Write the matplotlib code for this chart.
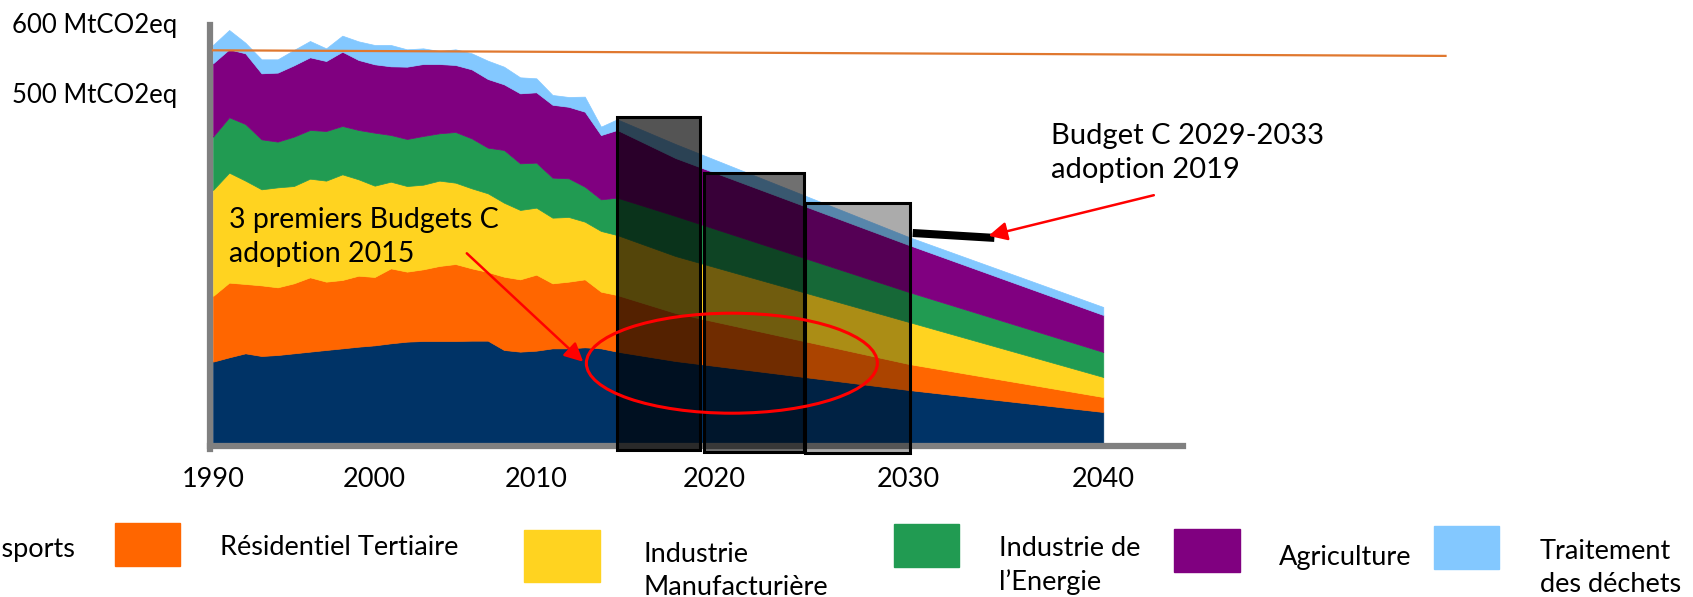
import numpy as np
import matplotlib.pyplot as plt
from matplotlib.patches import Rectangle, Ellipse
from matplotlib import transforms

plt.rcParams['font.family'] = ['Lato', 'DejaVu Sans']

# emissions par secteur (MtCO2eq), historique annuel puis projection
years = list(range(1990, 2016)) + [2018, 2030, 2040]

transports = [116.2, 122.4, 128.1, 124.3, 125.7, 128.1, 130.5, 132.9, 135.2, 137.6,
              139.5, 142.4, 144.8, 145.7, 145.7, 145.7, 146.2, 146.2, 132.9, 130.5,
              131.9, 135.2, 135.2, 136.7, 135.2, 130.5, 117.1, 75.7, 44.3]
residentiel = [93.8, 106.7, 99.1, 100.9, 96.7, 100.0, 106.2, 97.6, 97.7, 101.4,
               97.7, 107.1, 100.0, 102.4, 107.2, 110.0, 103.3, 98.1, 104.7, 103.3,
               108.6, 92.9, 95.3, 97.1, 81.0, 80.9, 68.6, 37.2, 21.4]
industrie = [151.4, 157.1, 147.6, 137.2, 142.8, 139.0, 140.9, 144.3, 150.9, 137.7,
             130.4, 123.8, 122.3, 120.9, 121.9, 116.2, 114.3, 112.4, 105.7, 99.1,
             95.7, 93.8, 92.4, 82.4, 86.7, 85.7, 81.4, 60.0, 28.6]
energie = [76.2, 79.1, 80.9, 71.4, 65.3, 70.5, 69.6, 70.9, 69.1, 70.5,
           75.7, 66.7, 67.2, 69.6, 67.6, 72.4, 71.4, 65.2, 75.3, 66.6,
           64.3, 57.2, 55.2, 50.0, 45.2, 53.4, 57.2, 42.8, 35.7]
agriculture = [104.8, 97.1, 101.0, 94.3, 98.6, 101.9, 103.8, 100.0, 106.1, 100.0,
               97.7, 98.1, 103.3, 102.8, 99.0, 95.7, 98.6, 98.1, 93.8, 100.0,
               100.5, 104.1, 102.2, 107.1, 91.8, 96.7, 82.8, 67.2, 52.9]
dechets = [26.2, 27.6, 15.2, 20.0, 19.0, 21.9, 23.3, 18.1, 22.9, 26.6,
           27.6, 30.5, 24.8, 22.4, 18.6, 22.4, 22.9, 26.2, 25.2, 22.9,
           20.0, 14.0, 14.0, 21.5, 12.0, 15.2, 20.0, 11.4, 11.4]

secteurs = ['Transports', 'Résidentiel Tertiaire', 'Industrie\nManufacturière',
            'Industrie de\nl’Energie', 'Agriculture', 'Traitement\ndes déchets']
couleurs = ['#003366', '#FF6600', '#FFD320', '#219B52', '#800080', '#83C8FF']

# budgets carbone : debut, fin, bas, haut
budgets = [(2015.0, 2019.27, -10, 465.7),
           (2019.48, 2024.62, -12.9, 385.7),
           (2024.67, 2030.07, -14.3, 342.9)]
budget_alpha = [0.67, 0.56, 0.33]
budget4 = ([2030.2, 2034.4], [300, 293])
niveau_1990 = ([1990, 2057.6], [561, 553])

x_ticks = [1990, 2000, 2010, 2020, 2030, 2040]
y_ticks = [500, 600]

W, H = 1693, 597
fig = plt.figure(figsize=(W / 100, H / 100), dpi=100)
ax = fig.add_axes([213 / W, 1 - 457 / H, 970 / W, 448 / H])


# l'axe des annees n'a pas le meme pas avant et apres 2015
def fwd(x):
    x = np.asarray(x, float)
    return np.where(x <= 2015, (x - 1990) * 16.16, 404 + (x - 2015) * 19.44)


def inv(v):
    v = np.asarray(v, float)
    return np.where(v <= 404, 1990 + v / 16.16, 2015 + (v - 404) / 19.44)


ax.set_xscale('function', functions=(fwd, inv))

ax.stackplot(years, transports, residentiel, industrie, energie, agriculture, dechets,
             colors=couleurs, edgecolor='face', linewidth=0.5, zorder=1)

for (x0, x1, y0, y1), a in zip(budgets, budget_alpha):
    ax.add_patch(Rectangle((x0, y0), x1 - x0, y1 - y0, facecolor=(0, 0, 0, a),
                           edgecolor='black', lw=2.2, zorder=3))

ax.plot(budget4[0], budget4[1], color='black', lw=5.8, solid_capstyle='butt', zorder=4)
ax.plot(niveau_1990[0], niveau_1990[1], color='#E0782F', lw=1.6, clip_on=False, zorder=4)

ax.set_xlim(1990, 2044.1)
ax.set_ylim(-20, 620)
for s in ['top', 'right']:
    ax.spines[s].set_visible(False)
ax.spines['left'].set_color('#808080')
ax.spines['left'].set_linewidth(4.5)
ax.spines['left'].set_bounds(-8, 597)
ax.spines['left'].set_position(('outward', 2))
ax.spines['bottom'].set_color('#808080')
ax.spines['bottom'].set_linewidth(4.5)
ax.spines['bottom'].set_position(('data', -4))
ax.spines['bottom'].set_bounds(1989.8, 2044.1)

ax.set_xticks(x_ticks)
ax.set_xticklabels([str(t) for t in x_ticks])
ax.set_yticks(y_ticks)
ax.set_yticklabels([f'{t} MtCO2eq' for t in y_ticks])
ax.tick_params(axis='x', length=0, pad=15, labelsize=19.5)
ax.tick_params(axis='y', length=0, pad=24, labelsize=18.5)
ax.set_facecolor('none')

# annotations (va='baseline' = ligne du bas)
ax.text(1991.0, 258.6, '3 premiers Budgets C\nadoption 2015', fontsize=20.5,
        va='baseline', ha='left', linespacing=1.4, zorder=5)
ax.text(2037.3, 378.6, 'Budget C 2029-2033\nadoption 2019', fontsize=21,
        va='baseline', ha='left', linespacing=1.4, zorder=5, clip_on=False)
arrow = dict(arrowstyle='-|>', color='red', lw=1.8, mutation_scale=28, shrinkA=0, shrinkB=0)
ax.annotate('', xy=(2012.9, 116), xytext=(2005.7, 271), arrowprops=arrow, zorder=6)
ax.annotate('', xy=(2034.1, 296), xytext=(2042.6, 354), arrowprops=arrow,
            zorder=6, annotation_clip=False)

trans = fig.dpi_scale_trans + transforms.ScaledTranslation(2020.9, 114, ax.transData)
ax.add_patch(Ellipse((0, 0), 2.91, 1.00, transform=trans, fill=False,
                     edgecolor='red', lw=2.2, zorder=6))

# legende dessinee a la main comme sur la diapo
leg_boxes = [None, (115, 523, 65, 43), (524, 530, 76, 52), (894, 524, 65, 43),
             (1174, 529, 66, 43), (1434, 526, 65, 43)]
leg_text = [(76, 557, 'right'), (220, 555, 'left'), (644, 595, 'left'),
            (999, 590, 'left'), (1279, 565, 'left'), (1540, 592, 'left')]
for nom, c, b, (tx, ty, ha) in zip(secteurs, couleurs, leg_boxes, leg_text):
    if b is not None:
        x0, y0, w, h = b
        fig.add_artist(Rectangle((x0 / W, 1 - (y0 + h) / H), w / W, h / H,
                                 transform=fig.transFigure, color=c))
    fig.text(tx / W, 1 - ty / H, nom, fontsize=19.5, ha=ha, va='baseline', linespacing=1.4)

fig.savefig('out.png', dpi=100)
